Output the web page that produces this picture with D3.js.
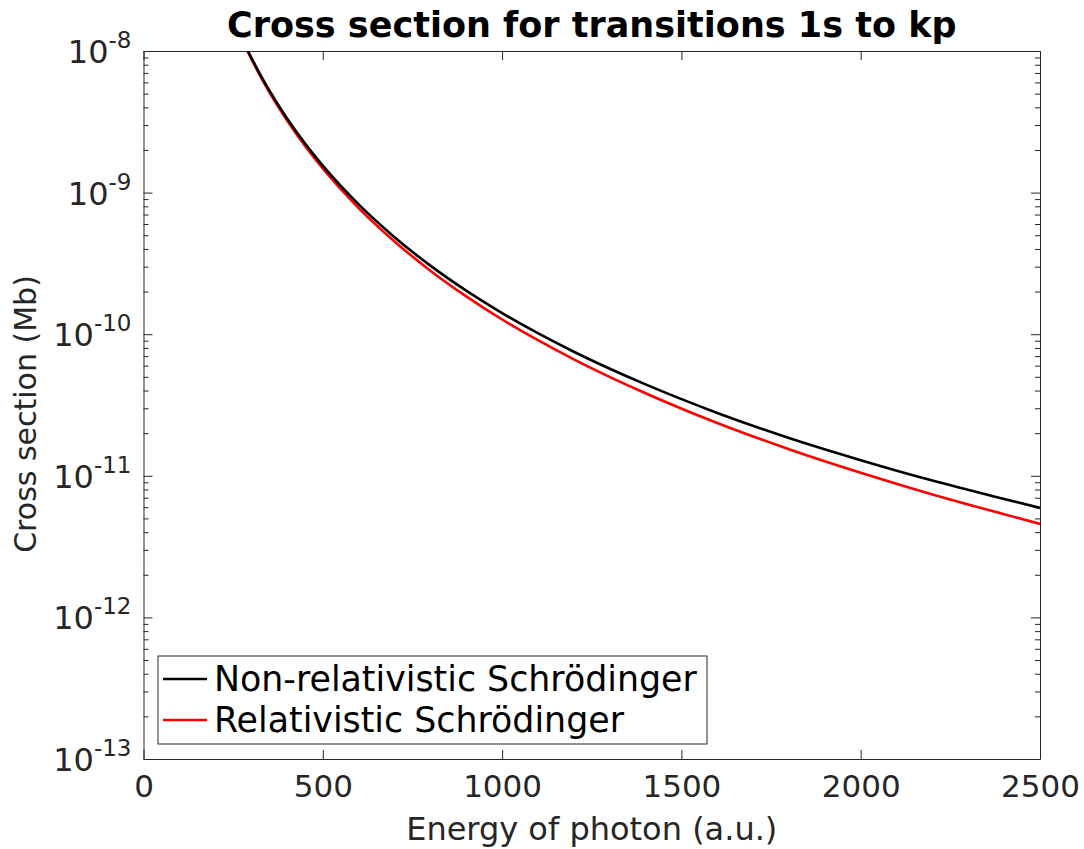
<!DOCTYPE html>
<html>
<head>
<meta charset="utf-8">
<script src="https://cdn.jsdelivr.net/npm/d3@7"></script>
<style>
	body { margin: 0; background: #fff; }
	text { font-family: "DejaVu Sans", sans-serif; }
</style>
</head>
<body>
<svg id="chart" width="1084" height="849"></svg>
<script>
// photon energy (a.u.)
var energy = [280, 300, 325, 350, 400, 450, 500, 600, 700, 800, 900, 1000, 1200, 1400, 1600, 1800, 2000, 2200, 2400, 2500];
// cross section (Mb)
var nonRelativistic = [1.148e-8, 9.04e-9, 6.86e-9, 5.31e-9, 3.35e-9, 2.23e-9, 1.55e-9, 8.25e-10, 4.84e-10, 3.05e-10, 2.03e-10, 1.41e-10, 7.52e-11, 4.42e-11, 2.78e-11, 1.85e-11, 1.29e-11, 9.26e-12, 6.86e-12, 5.93e-12];
var relativistic = [1.127e-8, 8.87e-9, 6.70e-9, 5.16e-9, 3.24e-9, 2.14e-9, 1.48e-9, 7.78e-10, 4.52e-10, 2.81e-10, 1.85e-10, 1.27e-10, 6.65e-11, 3.83e-11, 2.36e-11, 1.54e-11, 1.05e-11, 7.38e-12, 5.35e-12, 4.57e-12];
var seriesNames = ['Non-relativistic Schrödinger', 'Relativistic Schrödinger'];
var seriesColors = ['#000000', '#ff0000'];
var xTicks = [0, 500, 1000, 1500, 2000, 2500];
var yExponents = [-8, -9, -10, -11, -12, -13];

var ink = '#262626';
// note: "top" is window.top, so use other names
var plotLeft = 143.5, plotTop = 51, plotW = 896.5, plotH = 708;

var svg = d3.select('#chart');
var g = svg.append('g').attr('transform', 'translate(' + plotLeft + ',' + plotTop + ')');

var x = d3.scaleLinear().domain([0, 2500]).range([0, plotW]);
var y = d3.scaleLog().domain([1e-13, 1e-8]).range([plotH, 0]);

g.append('clipPath').attr('id', 'plotClip')
	.append('rect').attr('width', plotW).attr('height', plotH);

// minor ticks for the log axis
var minorTicks = [];
yExponents.forEach(function (e) {
	if (e == -8) return;
	for (var m = 2; m <= 9; m++) minorTicks.push(m * Math.pow(10, e));
});

function styleAxis(sel) {
	sel.selectAll('path').attr('stroke', ink).attr('stroke-width', 1);
	sel.selectAll('line').attr('stroke', ink).attr('stroke-width', 1);
	sel.selectAll('text').attr('fill', ink);
}

// x axes
var xAxis = d3.axisBottom(x).tickValues(xTicks).tickSizeInner(-9).tickSizeOuter(0)
	.tickPadding(16).tickFormat(d3.format('d'));
var xg = g.append('g').attr('transform', 'translate(0,' + plotH + ')').call(xAxis);
xg.selectAll('text').attr('font-size', 31).attr('font-family', '"DejaVu Sans", sans-serif');
styleAxis(xg);
var xTop = g.append('g').call(d3.axisTop(x).tickValues(xTicks).tickSizeInner(-9).tickSizeOuter(0).tickFormat(''));
styleAxis(xTop);

// y axes
var yMajor = yExponents.map(function (e) { return Math.pow(10, e); });
var yAxis = d3.axisLeft(y).tickValues(yMajor).tickSizeInner(-9).tickSizeOuter(0).tickFormat('');
var yg = g.append('g').call(yAxis);
styleAxis(yg);
yg.selectAll('.tick').each(function (d) {
	var t = d3.select(this).append('text')
		.attr('x', -12).attr('y', 0).attr('dy', '0.36em')
		.attr('text-anchor', 'end').attr('fill', ink).attr('font-size', 32)
		.attr('font-family', '"DejaVu Sans", sans-serif');
	t.append('tspan').text('10');
	t.append('tspan').attr('font-size', 23).attr('dy', -15)
		.text('-' + String(-Math.round(Math.log10(d))));
});
g.append('g').call(d3.axisLeft(y).tickValues(minorTicks).tickSizeInner(-5).tickSizeOuter(0).tickFormat(''))
	.call(styleAxis).select('path').remove();

var yRight = g.append('g').attr('transform', 'translate(' + plotW + ',0)')
	.call(d3.axisRight(y).tickValues(yMajor).tickSizeInner(-9).tickSizeOuter(0).tickFormat(''));
styleAxis(yRight);
g.append('g').attr('transform', 'translate(' + plotW + ',0)')
	.call(d3.axisRight(y).tickValues(minorTicks).tickSizeInner(-5).tickSizeOuter(0).tickFormat(''))
	.call(styleAxis).select('path').remove();

// curves
var line = d3.line()
	.x(function (d) { return x(d[0]); })
	.y(function (d) { return y(d[1]); })
	.curve(d3.curveMonotoneX);

// red first, black drawn over it
[relativistic, nonRelativistic].forEach(function (vals, k) {
	var i = 1 - k;
	var pts = energy.map(function (e, j) { return [e, vals[j]]; });
	g.append('path').datum(pts)
		.attr('clip-path', 'url(#plotClip)')
		.attr('fill', 'none')
		.attr('stroke', seriesColors[i])
		.attr('stroke-width', 2.6)
		.attr('d', line);
});

// legend
var lg = g.append('g').attr('transform', 'translate(' + (158 - plotLeft) + ',' + (656 - plotTop) + ')');
lg.append('rect').attr('width', 549).attr('height', 88)
	.attr('fill', '#fff').attr('stroke', ink).attr('stroke-width', 1);
seriesNames.forEach(function (name, i) {
	var cy = 23 + i * 41;
	lg.append('line').attr('x1', 5).attr('x2', 49).attr('y1', cy).attr('y2', cy)
		.attr('stroke', seriesColors[i]).attr('stroke-width', 2.6);
	lg.append('text').attr('x', 56).attr('y', cy).attr('dy', '0.35em')
		.attr('font-size', 34.8).attr('fill', '#000').text(name);
});

// titles
svg.append('text').attr('x', plotLeft + plotW / 2).attr('y', 36.5)
	.attr('text-anchor', 'middle').attr('font-weight', 'bold').attr('font-size', 35)
	.attr('fill', '#000').text('Cross section for transitions 1s to kp');
svg.append('text').attr('x', plotLeft + plotW / 2).attr('y', 840)
	.attr('text-anchor', 'middle').attr('font-size', 32).attr('fill', ink)
	.text('Energy of photon (a.u.)');
svg.append('text').attr('transform', 'translate(36,414) rotate(-90)')
	.attr('text-anchor', 'middle').attr('font-size', 30).attr('fill', ink)
	.text('Cross section (Mb)');
</script>
</body>
</html>
